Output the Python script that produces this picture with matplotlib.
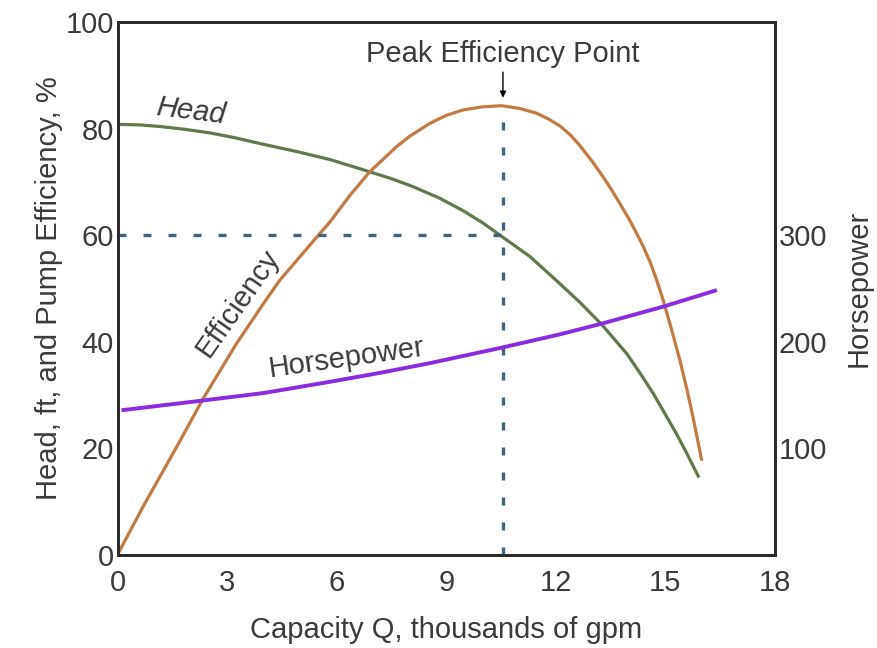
import matplotlib.pyplot as plt

plt.rcParams['font.family'] = ['Liberation Sans', 'DejaVu Sans']

# values (Q in thousands of gpm)
head_q = [0.0, 0.6, 1.15, 1.8, 2.52, 3.2, 3.89, 4.9, 5.81, 6.9, 7.5, 8.09, 8.8, 9.46, 10.0, 10.51, 11.29,
          12.11, 12.66, 13.25, 13.94, 14.3, 14.67, 15.3, 15.6, 15.9]
head_v = [80.8, 80.7, 80.4, 79.9, 79.2, 78.3, 77.2, 75.7, 74.2, 71.9, 70.6, 69.1, 67.0, 64.6, 62.3, 59.8, 56.0,
          50.9, 47.4, 43.3, 37.8, 34.2, 30.3, 22.8, 18.9, 14.8]

eff_q = [0.0, 0.69, 1.61, 2.34, 3.25, 4.07, 4.44, 5.49, 5.81, 6.36, 6.9, 7.63, 8.0, 8.55, 9.0, 9.46, 10.0, 10.51,
         11.0, 11.47, 11.8, 12.11, 12.4, 12.66, 13.0, 13.21, 13.5, 13.75, 14.0, 14.21, 14.4, 14.58, 14.71,
         14.8, 14.94, 15.15, 15.4, 15.6, 15.76, 15.99]
eff_v = [0.2, 9.1, 20.3, 29.4, 39.7, 48.0, 51.6, 60.0, 62.5, 67.5, 71.9, 76.6, 78.6, 81.0, 82.5, 83.5, 84.1, 84.3,
         83.8, 82.9, 81.8, 80.5, 78.8, 76.8, 73.8, 71.8, 68.8, 66.0, 63.1, 60.4, 57.8, 55.0, 52.6,
         50.8, 47.8, 42.8, 36.5, 30.8, 25.8, 18.0]

hp_q = [0.15, 2.34, 4.0, 5.81, 7.2, 8.55, 10.51, 12.11, 13.25, 14.94, 16.36]
hp_v = [136, 145, 152, 162.5, 171, 180, 194.5, 207, 217, 233, 248]

peak_q = 10.55
peak_eff = 84.3
peak_head = 60

text_color = '#3a3a3a'

fig = plt.figure(figsize=(8.77, 6.48), dpi=100)
ax = fig.add_axes([0.1345, 0.1435, 0.749, 0.8225])
ax2 = ax.twinx()

ax.plot(head_q, head_v, color='#5f7a4a', lw=2.3, solid_joinstyle='round')
ax.plot(eff_q, eff_v, color='#c27a45', lw=2.3, solid_joinstyle='round')
ax2.plot(hp_q, hp_v, color='#8a2be0', lw=2.8, solid_joinstyle='round')

# dashed guide lines to the peak efficiency point
ax.plot([0, peak_q], [peak_head, peak_head], color='#3d6580', lw=2.4, dashes=(2.4, 5.1))
ax.plot([peak_q, peak_q], [0, peak_eff], color='#3d6580', lw=2.4, dashes=(2.4, 5.1))

ax.text(peak_q, 91.3, 'Peak Efficiency Point', ha='center', va='bottom', fontsize=21, color=text_color)
ax.annotate('', xy=(peak_q, 85.8), xytext=(peak_q, 90.6),
            arrowprops=dict(arrowstyle='-|>', color='black', lw=1, mutation_scale=9,
                            shrinkA=0, shrinkB=0))

ax.text(2.0, 83.2, 'Head', fontsize=21, style='italic', rotation=-7, color=text_color,
        ha='center', va='center')
ax.text(3.29, 47.3, 'Efficiency', fontsize=21, rotation=55, color=text_color,
        ha='center', va='center')
ax.text(6.25, 37.0, 'Horsepower', fontsize=21, rotation=8, color=text_color,
        ha='center', va='center')

ax.set_xlim(0, 18)
ax.set_ylim(0, 100)
ax2.set_ylim(0, 500)
ax.set_xticks([0, 3, 6, 9, 12, 15, 18])
ax.set_yticks([0, 20, 40, 60, 80, 100])
ax2.set_yticks([100, 200, 300])

ax.tick_params(axis='x', length=0, labelsize=21, labelcolor=text_color, pad=10)
ax.tick_params(axis='y', length=0, labelsize=21, labelcolor=text_color, pad=3)
ax2.tick_params(length=0, labelsize=21, labelcolor=text_color, pad=3)

ax.set_xlabel('Capacity Q, thousands of gpm', fontsize=21, color=text_color, labelpad=14)
ax.set_ylabel('Head, ft, and Pump Efficiency, %', fontsize=21, color=text_color, labelpad=2)
ax2.set_ylabel('Horsepower', fontsize=21, color=text_color, labelpad=12)

for a in (ax, ax2):
    for s in a.spines.values():
        s.set_linewidth(2)
        s.set_color('#2a2a2a')

fig.savefig('out.png', dpi=100)
